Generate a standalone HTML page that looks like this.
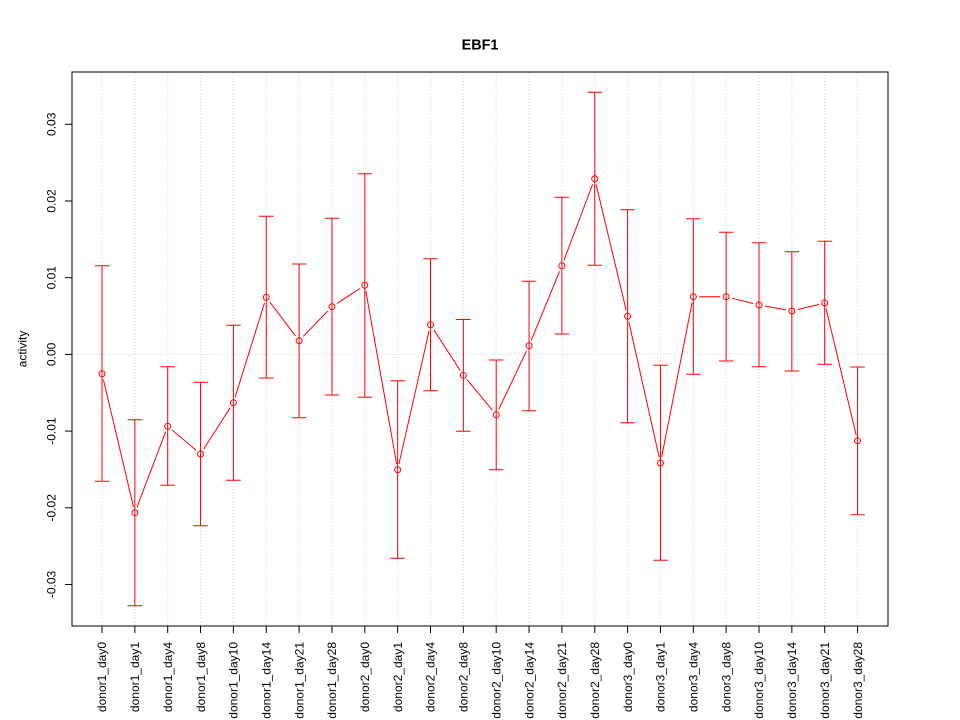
<!DOCTYPE html>
<html><head><meta charset="utf-8"><style>
html,body{margin:0;padding:0;background:#fff;}
svg{display:block;}
text{font-family:"Liberation Sans",Arial,sans-serif;fill:#000;}
</style></head><body>
<svg width="960" height="720" viewBox="0 0 960 720" xmlns="http://www.w3.org/2000/svg">
<rect x="0" y="0" width="960" height="720" fill="#fff"/>
<g stroke="#d3d3d3" stroke-width="1" stroke-dasharray="1,2" fill="none">
<line x1="102" y1="72" x2="102" y2="626"/>
<line x1="134.85" y1="72" x2="134.85" y2="626"/>
<line x1="167.7" y1="72" x2="167.7" y2="626"/>
<line x1="200.55" y1="72" x2="200.55" y2="626"/>
<line x1="233.4" y1="72" x2="233.4" y2="626"/>
<line x1="266.25" y1="72" x2="266.25" y2="626"/>
<line x1="299.1" y1="72" x2="299.1" y2="626"/>
<line x1="331.95" y1="72" x2="331.95" y2="626"/>
<line x1="364.8" y1="72" x2="364.8" y2="626"/>
<line x1="397.65" y1="72" x2="397.65" y2="626"/>
<line x1="430.5" y1="72" x2="430.5" y2="626"/>
<line x1="463.35" y1="72" x2="463.35" y2="626"/>
<line x1="496.2" y1="72" x2="496.2" y2="626"/>
<line x1="529.05" y1="72" x2="529.05" y2="626"/>
<line x1="561.9" y1="72" x2="561.9" y2="626"/>
<line x1="594.75" y1="72" x2="594.75" y2="626"/>
<line x1="627.6" y1="72" x2="627.6" y2="626"/>
<line x1="660.45" y1="72" x2="660.45" y2="626"/>
<line x1="693.3" y1="72" x2="693.3" y2="626"/>
<line x1="726.15" y1="72" x2="726.15" y2="626"/>
<line x1="759" y1="72" x2="759" y2="626"/>
<line x1="791.85" y1="72" x2="791.85" y2="626"/>
<line x1="824.7" y1="72" x2="824.7" y2="626"/>
<line x1="857.55" y1="72" x2="857.55" y2="626"/>
<line x1="72" y1="354.4" x2="888" y2="354.4"/>
</g>
<!-- connecting line -->
<polyline fill="none" stroke="#ff0000" stroke-width="1" points="102,373.7 134.85,512.7 167.7,426.3 200.55,454 233.4,402.7 266.25,297.3 299.1,340.7 331.95,306.7 364.8,285.3 397.65,469.7 430.5,324.7 463.35,375.3 496.2,414.7 529.05,345.7 561.9,265.7 594.75,178.7 627.6,316.3 660.45,463 693.3,296.7 726.15,296.7 759,305 791.85,311 824.7,303 857.55,440.7"/>
<g fill="#fff" stroke="none">
<circle cx="102" cy="373.7" r="6"/><circle cx="134.85" cy="512.7" r="6"/><circle cx="167.7" cy="426.3" r="6"/><circle cx="200.55" cy="454" r="6"/><circle cx="233.4" cy="402.7" r="6"/><circle cx="266.25" cy="297.3" r="6"/><circle cx="299.1" cy="340.7" r="6"/><circle cx="331.95" cy="306.7" r="6"/><circle cx="364.8" cy="285.3" r="6"/><circle cx="397.65" cy="469.7" r="6"/><circle cx="430.5" cy="324.7" r="6"/><circle cx="463.35" cy="375.3" r="6"/><circle cx="496.2" cy="414.7" r="6"/><circle cx="529.05" cy="345.7" r="6"/><circle cx="561.9" cy="265.7" r="6"/><circle cx="594.75" cy="178.7" r="6"/><circle cx="627.6" cy="316.3" r="6"/><circle cx="660.45" cy="463" r="6"/><circle cx="693.3" cy="296.7" r="6"/><circle cx="726.15" cy="296.7" r="6"/><circle cx="759" cy="305" r="6"/><circle cx="791.85" cy="311" r="6"/><circle cx="824.7" cy="303" r="6"/><circle cx="857.55" cy="440.7" r="6"/>
</g>
<!-- error bars -->
<g stroke="#ff0000" stroke-width="1" fill="none">
<path d="M102,265.7V481.3M94.7,265.7H109.3M94.7,481.3H109.3"/>
<path d="M134.85,419.7V605.7M127.55,419.7H142.15M127.55,605.7H142.15"/>
<path d="M167.7,366.7V485.3M160.4,366.7H175M160.4,485.3H175"/>
<path d="M200.55,382.3V525.7M193.25,382.3H207.85M193.25,525.7H207.85"/>
<path d="M233.4,325.3V480.3M226.1,325.3H240.7M226.1,480.3H240.7"/>
<path d="M266.25,216.3V378M258.95,216.3H273.55M258.95,378H273.55"/>
<path d="M299.1,264V417.7M291.8,264H306.4M291.8,417.7H306.4"/>
<path d="M331.95,218.3V395M324.65,218.3H339.25M324.65,395H339.25"/>
<path d="M364.8,173.7V397.3M357.5,173.7H372.1M357.5,397.3H372.1"/>
<path d="M397.65,380.7V558.3M390.35,380.7H404.95M390.35,558.3H404.95"/>
<path d="M430.5,258.7V390.7M423.2,258.7H437.8M423.2,390.7H437.8"/>
<path d="M463.35,319.5V431.2M456.05,319.5H470.65M456.05,431.2H470.65"/>
<path d="M496.2,360V469.7M488.9,360H503.5M488.9,469.7H503.5"/>
<path d="M529.05,281.3V410.7M521.75,281.3H536.35M521.75,410.7H536.35"/>
<path d="M561.9,197.3V334M554.6,197.3H569.2M554.6,334H569.2"/>
<path d="M594.75,92.3V265.3M587.45,92.3H602.05M587.45,265.3H602.05"/>
<path d="M627.6,209.7V422.7M620.3,209.7H634.9M620.3,422.7H634.9"/>
<path d="M660.45,365.3V560.3M653.15,365.3H667.75M653.15,560.3H667.75"/>
<path d="M693.3,218.7V374.3M686,218.7H700.6M686,374.3H700.6"/>
<path d="M726.15,232.3V361M718.85,232.3H733.45M718.85,361H733.45"/>
<path d="M759,242.7V366.7M751.7,242.7H766.3M751.7,366.7H766.3"/>
<path d="M791.85,251.7V371M784.55,251.7H799.15M784.55,371H799.15"/>
<path d="M824.7,241.3V364.3M817.4,241.3H832M817.4,364.3H832"/>
<path d="M857.55,367V514.7M850.25,367H864.85M850.25,514.7H864.85"/>
</g>
<g stroke="#ff0000" stroke-width="1" fill="none">
<circle cx="102" cy="373.7" r="3"/><circle cx="134.85" cy="512.7" r="3"/><circle cx="167.7" cy="426.3" r="3"/><circle cx="200.55" cy="454" r="3"/><circle cx="233.4" cy="402.7" r="3"/><circle cx="266.25" cy="297.3" r="3"/><circle cx="299.1" cy="340.7" r="3"/><circle cx="331.95" cy="306.7" r="3"/><circle cx="364.8" cy="285.3" r="3"/><circle cx="397.65" cy="469.7" r="3"/><circle cx="430.5" cy="324.7" r="3"/><circle cx="463.35" cy="375.3" r="3"/><circle cx="496.2" cy="414.7" r="3"/><circle cx="529.05" cy="345.7" r="3"/><circle cx="561.9" cy="265.7" r="3"/><circle cx="594.75" cy="178.7" r="3"/><circle cx="627.6" cy="316.3" r="3"/><circle cx="660.45" cy="463" r="3"/><circle cx="693.3" cy="296.7" r="3"/><circle cx="726.15" cy="296.7" r="3"/><circle cx="759" cy="305" r="3"/><circle cx="791.85" cy="311" r="3"/><circle cx="824.7" cy="303" r="3"/><circle cx="857.55" cy="440.7" r="3"/>
</g>
<!-- box and axes -->
<rect x="72" y="72" width="816" height="554" fill="none" stroke="#000" stroke-width="1"/>
<g stroke="#000" stroke-width="1">
<line x1="72" y1="124.3" x2="72" y2="584.5"/>
<line x1="65" y1="124.3" x2="72" y2="124.3"/>
<line x1="65" y1="201" x2="72" y2="201"/>
<line x1="65" y1="277.7" x2="72" y2="277.7"/>
<line x1="65" y1="354.4" x2="72" y2="354.4"/>
<line x1="65" y1="431.1" x2="72" y2="431.1"/>
<line x1="65" y1="507.8" x2="72" y2="507.8"/>
<line x1="65" y1="584.5" x2="72" y2="584.5"/>
<line x1="102" y1="626" x2="857.55" y2="626"/>
<path d="M102,626v7M134.85,626v7M167.7,626v7M200.55,626v7M233.4,626v7M266.25,626v7M299.1,626v7M331.95,626v7M364.8,626v7M397.65,626v7M430.5,626v7M463.35,626v7M496.2,626v7M529.05,626v7M561.9,626v7M594.75,626v7M627.6,626v7M660.45,626v7M693.3,626v7M726.15,626v7M759,626v7M791.85,626v7M824.7,626v7M857.55,626v7"/>
</g>
<g font-size="12" text-anchor="middle">
<text transform="translate(55.3,124.3) rotate(-90)">0.03</text>
<text transform="translate(55.3,201) rotate(-90)">0.02</text>
<text transform="translate(55.3,277.7) rotate(-90)">0.01</text>
<text transform="translate(55.3,354.4) rotate(-90)">0.00</text>
<text transform="translate(55.3,431.1) rotate(-90)">-0.01</text>
<text transform="translate(55.3,507.8) rotate(-90)">-0.02</text>
<text transform="translate(55.3,584.5) rotate(-90)">-0.03</text>
<text transform="translate(26.7,349) rotate(-90)">activity</text>
</g>
<g font-size="12" text-anchor="end">
<text transform="translate(106.2,642) rotate(-90)">donor1_day0</text>
<text transform="translate(139.05,642) rotate(-90)">donor1_day1</text>
<text transform="translate(171.9,642) rotate(-90)">donor1_day4</text>
<text transform="translate(204.75,642) rotate(-90)">donor1_day8</text>
<text transform="translate(237.6,642) rotate(-90)">donor1_day10</text>
<text transform="translate(270.45,642) rotate(-90)">donor1_day14</text>
<text transform="translate(303.3,642) rotate(-90)">donor1_day21</text>
<text transform="translate(336.15,642) rotate(-90)">donor1_day28</text>
<text transform="translate(369,642) rotate(-90)">donor2_day0</text>
<text transform="translate(401.85,642) rotate(-90)">donor2_day1</text>
<text transform="translate(434.7,642) rotate(-90)">donor2_day4</text>
<text transform="translate(467.55,642) rotate(-90)">donor2_day8</text>
<text transform="translate(500.4,642) rotate(-90)">donor2_day10</text>
<text transform="translate(533.25,642) rotate(-90)">donor2_day14</text>
<text transform="translate(566.1,642) rotate(-90)">donor2_day21</text>
<text transform="translate(598.95,642) rotate(-90)">donor2_day28</text>
<text transform="translate(631.8,642) rotate(-90)">donor3_day0</text>
<text transform="translate(664.65,642) rotate(-90)">donor3_day1</text>
<text transform="translate(697.5,642) rotate(-90)">donor3_day4</text>
<text transform="translate(730.35,642) rotate(-90)">donor3_day8</text>
<text transform="translate(763.2,642) rotate(-90)">donor3_day10</text>
<text transform="translate(796.05,642) rotate(-90)">donor3_day14</text>
<text transform="translate(828.9,642) rotate(-90)">donor3_day21</text>
<text transform="translate(861.75,642) rotate(-90)">donor3_day28</text>
</g>
<text x="480" y="49.3" font-size="14.4" font-weight="bold" text-anchor="middle">EBF1</text>
</svg>
</body></html>
